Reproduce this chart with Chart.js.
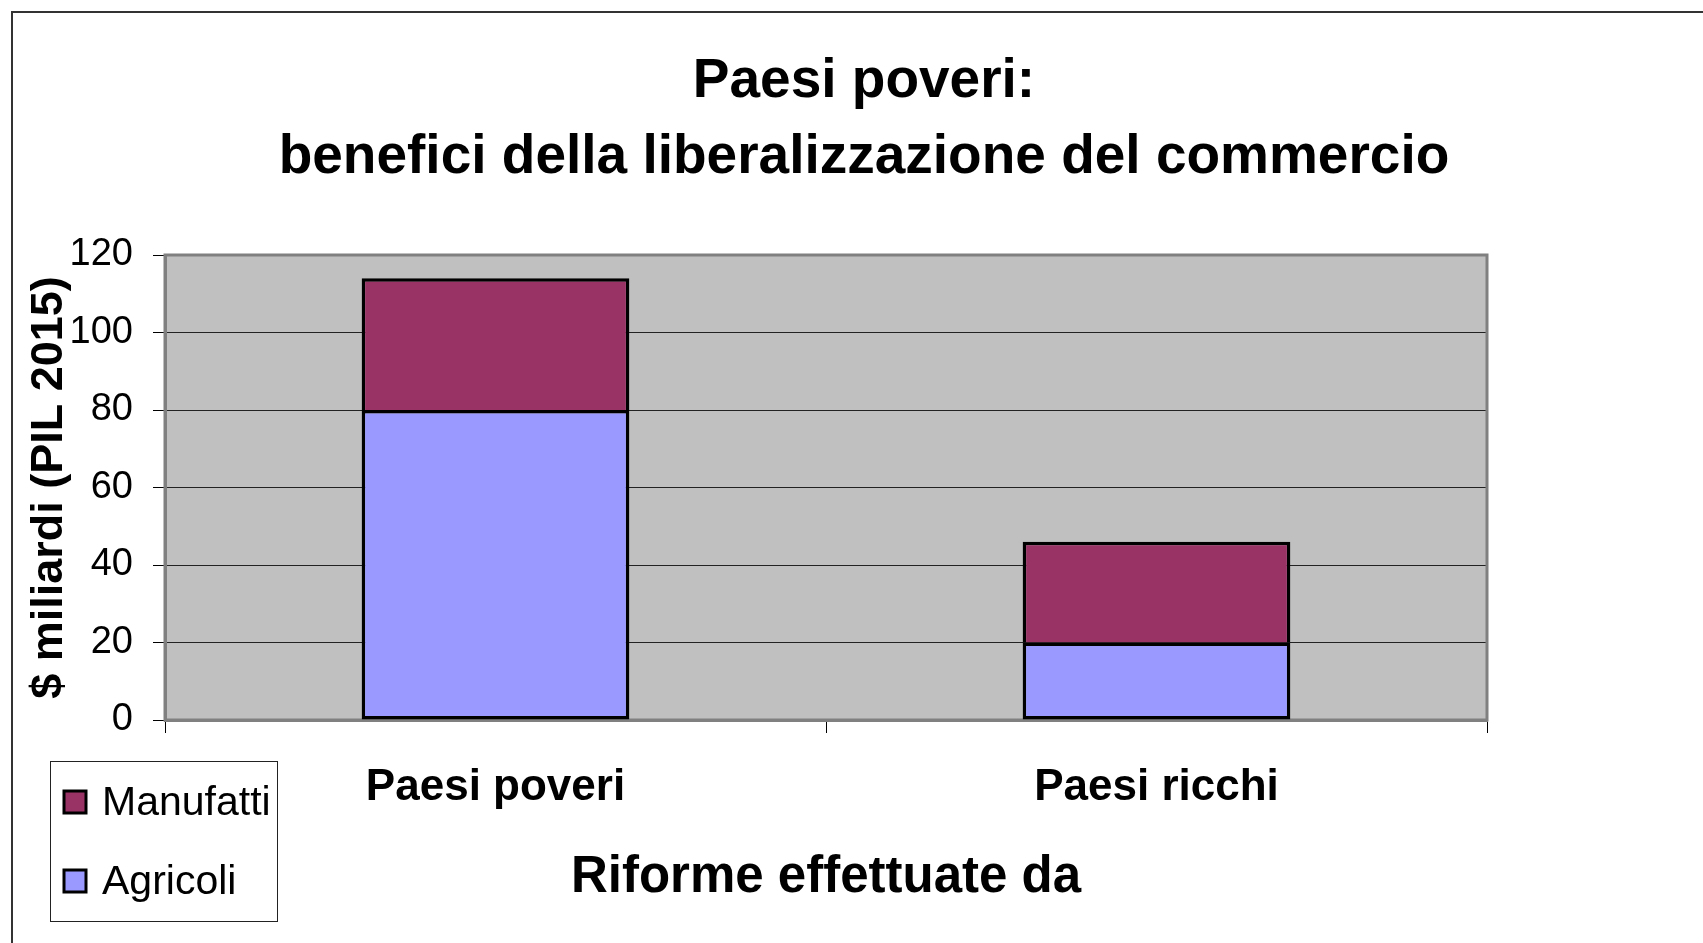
<!DOCTYPE html>
<html>
<head>
<meta charset="utf-8">
<script src="https://cdn.jsdelivr.net/npm/chart.js@4.4.1/dist/chart.umd.min.js"></script>
<style>
html,body{margin:0;padding:0;background:#fff;overflow:hidden;}
canvas{display:block;}
</style>
</head>
<body>
<canvas id="c" width="1703" height="943"></canvas>
<script>
const categories = ['Paesi poveri', 'Paesi ricchi'];
const seriesNames = ['Agricoli', 'Manufatti'];
const agricoli = [80, 20];
const manufatti = [34, 26];
const yTickValues = [0, 20, 40, 60, 80, 100, 120];
const titleLines = ['Paesi poveri:', 'benefici della liberalizzazione del commercio'];
const yTitle = '$ miliardi (PIL 2015)';
const xTitle = 'Riforme effettuate da';

function hasFont(name) {
  const cv = document.createElement('canvas').getContext('2d');
  cv.font = '50px monospace';
  const a = cv.measureText('Manufatti Agricoli 120').width;
  cv.font = '50px "' + name + '", monospace';
  const b = cv.measureText('Manufatti Agricoli 120').width;
  return Math.abs(a - b) > 0.5;
}
const NARROW_OK = hasFont('Liberation Sans Narrow');
const NF = NARROW_OK ? '"Liberation Sans Narrow", "Liberation Sans", Arial, sans-serif' : '"Liberation Sans", Arial, sans-serif';
const WF = '"Liberation Sans", Arial, sans-serif';
const SZ = NARROW_OK
  ? {tick: 42, xlab: 50, xtitle: 57, legend: 50}
  : {tick: 38, xlab: 44, xtitle: 51, legend: 41};

const plotDecor = {
  id: 'plotDecor',
  beforeDraw(chart) {
    const {ctx, chartArea: a} = chart;
    ctx.save();
    ctx.fillStyle = '#fff';
    ctx.fillRect(0, 0, chart.width, chart.height);
    ctx.fillStyle = '#C0C0C0';
    ctx.fillRect(a.left, a.top, a.right - a.left, a.bottom - a.top);
    ctx.strokeStyle = '#333';
    ctx.lineWidth = 2;
    ctx.beginPath();
    ctx.moveTo(12, chart.height + 5);
    ctx.lineTo(12, 12);
    ctx.lineTo(chart.width + 5, 12);
    ctx.stroke();
    ctx.fillStyle = '#000';
    ctx.font = 'bold 55px ' + WF;
    ctx.textAlign = 'center';
    ctx.textBaseline = 'middle';
    ctx.fillText(titleLines[0], 864, 82);
    ctx.fillText(titleLines[1], 864, 158);
    ctx.restore();
  },
  beforeDatasetsDraw(chart) {
    const {ctx, chartArea: a} = chart;
    ctx.save();
    ctx.strokeStyle = '#808080';
    ctx.lineWidth = 3;
    ctx.strokeRect(a.left, a.top, a.right - a.left, a.bottom - a.top);
    ctx.restore();
  },
  afterDraw(chart) {
    const {ctx} = chart;
    ctx.save();
    const bx = 50, by = 761, bw = 227, bh = 160;
    ctx.strokeStyle = '#222';
    ctx.lineWidth = 1;
    ctx.strokeRect(bx + 0.5, by + 0.5, bw, bh);
    const ds = chart.data.datasets.slice().reverse();
    const rowsY = [802, 881];
    ctx.font = SZ.legend + 'px ' + NF;
    ctx.textBaseline = 'middle';
    ctx.textAlign = 'left';
    ds.forEach((d, i) => {
      const y = rowsY[i];
      ctx.fillStyle = d.backgroundColor;
      ctx.fillRect(64, y - 11, 22, 22);
      ctx.strokeStyle = '#000';
      ctx.lineWidth = 3;
      ctx.strokeRect(64, y - 11, 22, 22);
      ctx.fillStyle = '#000';
      ctx.fillText(d.label, 102, y + 2);
    });
    ctx.restore();
  }
};

new Chart(document.getElementById('c'), {
  type: 'bar',
  data: {
    labels: categories,
    datasets: [
      {label: seriesNames[0], data: agricoli, backgroundColor: '#9999FF', borderColor: '#000', borderWidth: 3.5, borderSkipped: false},
      {label: seriesNames[1], data: manufatti, backgroundColor: '#993366', borderColor: '#000', borderWidth: 3.5}
    ]
  },
  options: {
    responsive: false,
    animation: false,
    devicePixelRatio: 1,
    layout: {padding: {top: 255, right: 216, bottom: 0, left: 0}},
    datasets: {bar: {categoryPercentage: 1, barPercentage: 0.405}},
    plugins: {
      legend: {display: false},
      tooltip: {enabled: false},
      title: {display: false}
    },
    scales: {
      x: {
        stacked: true,
        grid: {display: true, drawOnChartArea: false, offset: true, tickLength: 13, tickColor: '#000', lineWidth: 1},
        border: {display: true, color: '#808080', width: 3},
        ticks: {color: '#000', padding: 28, font: {family: NF, size: SZ.xlab, weight: 'bold'}},
        title: {display: true, text: xTitle, color: '#000', font: {family: NF, size: SZ.xtitle, weight: 'bold'}, padding: {top: 0, bottom: 34}},
        afterFit(s) { s.height = 223; }
      },
      y: {
        stacked: true,
        min: 0, max: 120,
        afterBuildTicks(s) { s.ticks = yTickValues.map(v => ({value: v})); },
        grid: {
          drawOnChartArea: true, tickLength: 12, tickColor: '#000', lineWidth: 1,
          color: (c) => (c.tick && (c.tick.value === 0 || c.tick.value === 120)) ? 'rgba(0,0,0,0)' : '#222'
        },
        border: {display: true, color: '#808080', width: 3},
        ticks: {color: '#000', padding: 20, font: {family: NF, size: SZ.tick}},
        title: {display: true, text: yTitle, color: '#000', font: {family: WF, size: 45, weight: 'bold'}, padding: {top: 23, bottom: 0}},
        afterFit(s) { s.width = 165; }
      }
    }
  },
  plugins: [plotDecor]
});
</script>
</body>
</html>
